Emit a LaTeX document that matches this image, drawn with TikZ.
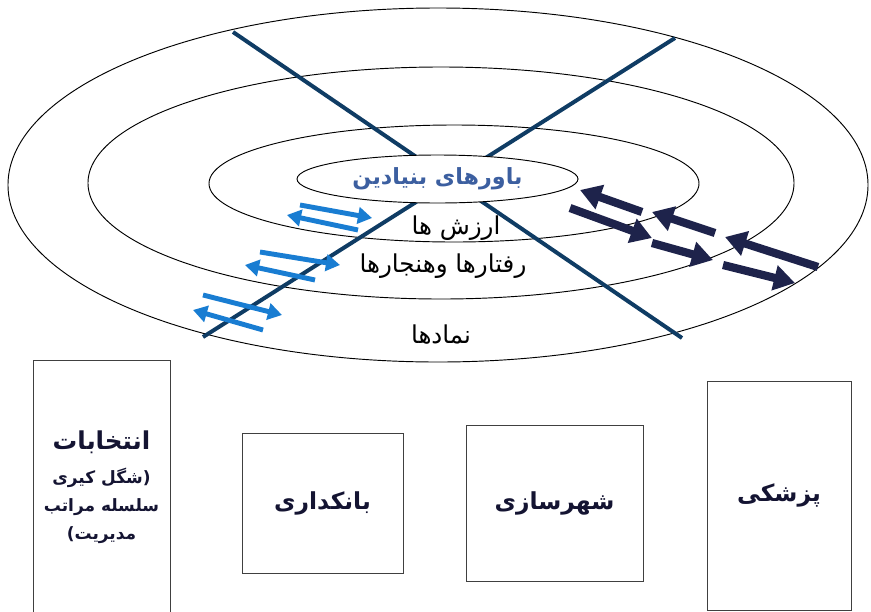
\documentclass[tikz,border=0pt]{standalone}
\usepackage{fontspec}
\usetikzlibrary{arrows.meta,shapes.geometric}
\TeXXeTstate=1
\newfontfamily\arabicfont[Script=Arabic]{DejaVu Sans}
\definecolor{axisblue}{RGB}{15,60,100}
\definecolor{lightblue}{RGB}{25,125,210}
\definecolor{darknavy}{RGB}{30,35,75}
\definecolor{titleblue}{RGB}{60,95,160}
\definecolor{boxtext}{RGB}{20,20,50}
\tikzset{
  ring/.style={draw=black, line width=0.8pt},
  axisline/.style={draw=axisblue, line width=3.4pt},
  thinarrow/.style={draw=lightblue, line width=4.2pt, -{Triangle[length=12pt,width=14pt]}},
  thickarrow/.style={draw=darknavy, line width=7pt, -{Triangle[length=18pt,width=21pt]}},
  layer/.style={font=\arabicfont\fontsize{21}{24}\selectfont},
  sector/.style={draw=black!75, line width=0.8pt, rectangle, inner sep=0pt, text=boxtext,
    align=center, font=\arabicfont\bfseries\fontsize{20}{24}\selectfont}
}
\begin{document}
\begin{tikzpicture}[x=0.03cm, y=-0.03cm]
\useasboundingbox (0,0) rectangle (871,611);
% rings
\draw [ring] (438,185) ellipse [x radius=12.9cm, y radius=5.31cm];
\draw [ring] (441,183) ellipse [x radius=10.59cm, y radius=3.48cm];
\draw [ring] (454,183.5) ellipse [x radius=7.35cm, y radius=1.755cm];
% crossing lines
\coordinate (nw) at (233,32);
\coordinate (se) at (682,338);
\coordinate (ne) at (675,38);
\coordinate (sw) at (203,337);
\draw [axisline] (nw) -- (se);
\draw [axisline] (ne) -- (sw);
% core
\node [ellipse, draw, line width=0.8pt, fill=white, minimum width=8.43cm, minimum height=1.44cm, inner sep=0pt,
  text=titleblue, font=\arabicfont\bfseries\fontsize{19}{22}\selectfont] (core) at (437.5,179) {\beginR باورهای بنیادین\endR};
\node [layer] (values) at (456,228) {\beginR ارزش ها\endR};
\node [layer] (norms) at (443,266) {\beginR رفتارها وهنجارها\endR};
\node [layer] (symbols) at (441,335) {\beginR نمادها\endR};
% arrows
\foreach \xa/\ya/\xb/\yb [count=\i] in {300/205/372/218, 358/230/287/215, 260/252/340/265,
    315/280/245/265, 203/295/282/315, 263/330/193/310} {
  \coordinate (la\i) at (\xa,\ya);
  \coordinate (lb\i) at (\xb,\yb);
  \draw [thinarrow] (la\i) -- (lb\i);
}
\foreach \xa/\ya/\xb/\yb [count=\i] in {642/212/580/190, 570/208/652/238, 715/233/652/212,
    652/243/713/260, 818/267/725/237, 723/265/795/283} {
  \coordinate (da\i) at (\xa,\ya);
  \coordinate (db\i) at (\xb,\yb);
  \draw [thickarrow] (da\i) -- (db\i);
}
% sectors
\node [sector, minimum width=4.11cm, minimum height=7.62cm, font=\arabicfont\bfseries\fontsize{14.5}{24}\selectfont] (elections) at (101.5,487)
  {{\fontsize{21}{24}\selectfont\beginR انتخابات\endR}\\[5pt] \beginR (شگل کیری\endR\\ \beginR سلسله مراتب\endR\\ \beginR مدیریت)\endR};
\node [sector, minimum width=4.83cm, minimum height=4.2cm] (banking) at (322.5,503) {\beginR بانکداری\endR};
\node [sector, minimum width=5.31cm, minimum height=4.68cm] (urban) at (554.5,503) {\beginR شهرسازی\endR};
\node [sector, minimum width=4.32cm, minimum height=6.87cm] (medicine) at (779,495.5) {\beginR پزشکی\endR};
\end{tikzpicture}
\end{document}
